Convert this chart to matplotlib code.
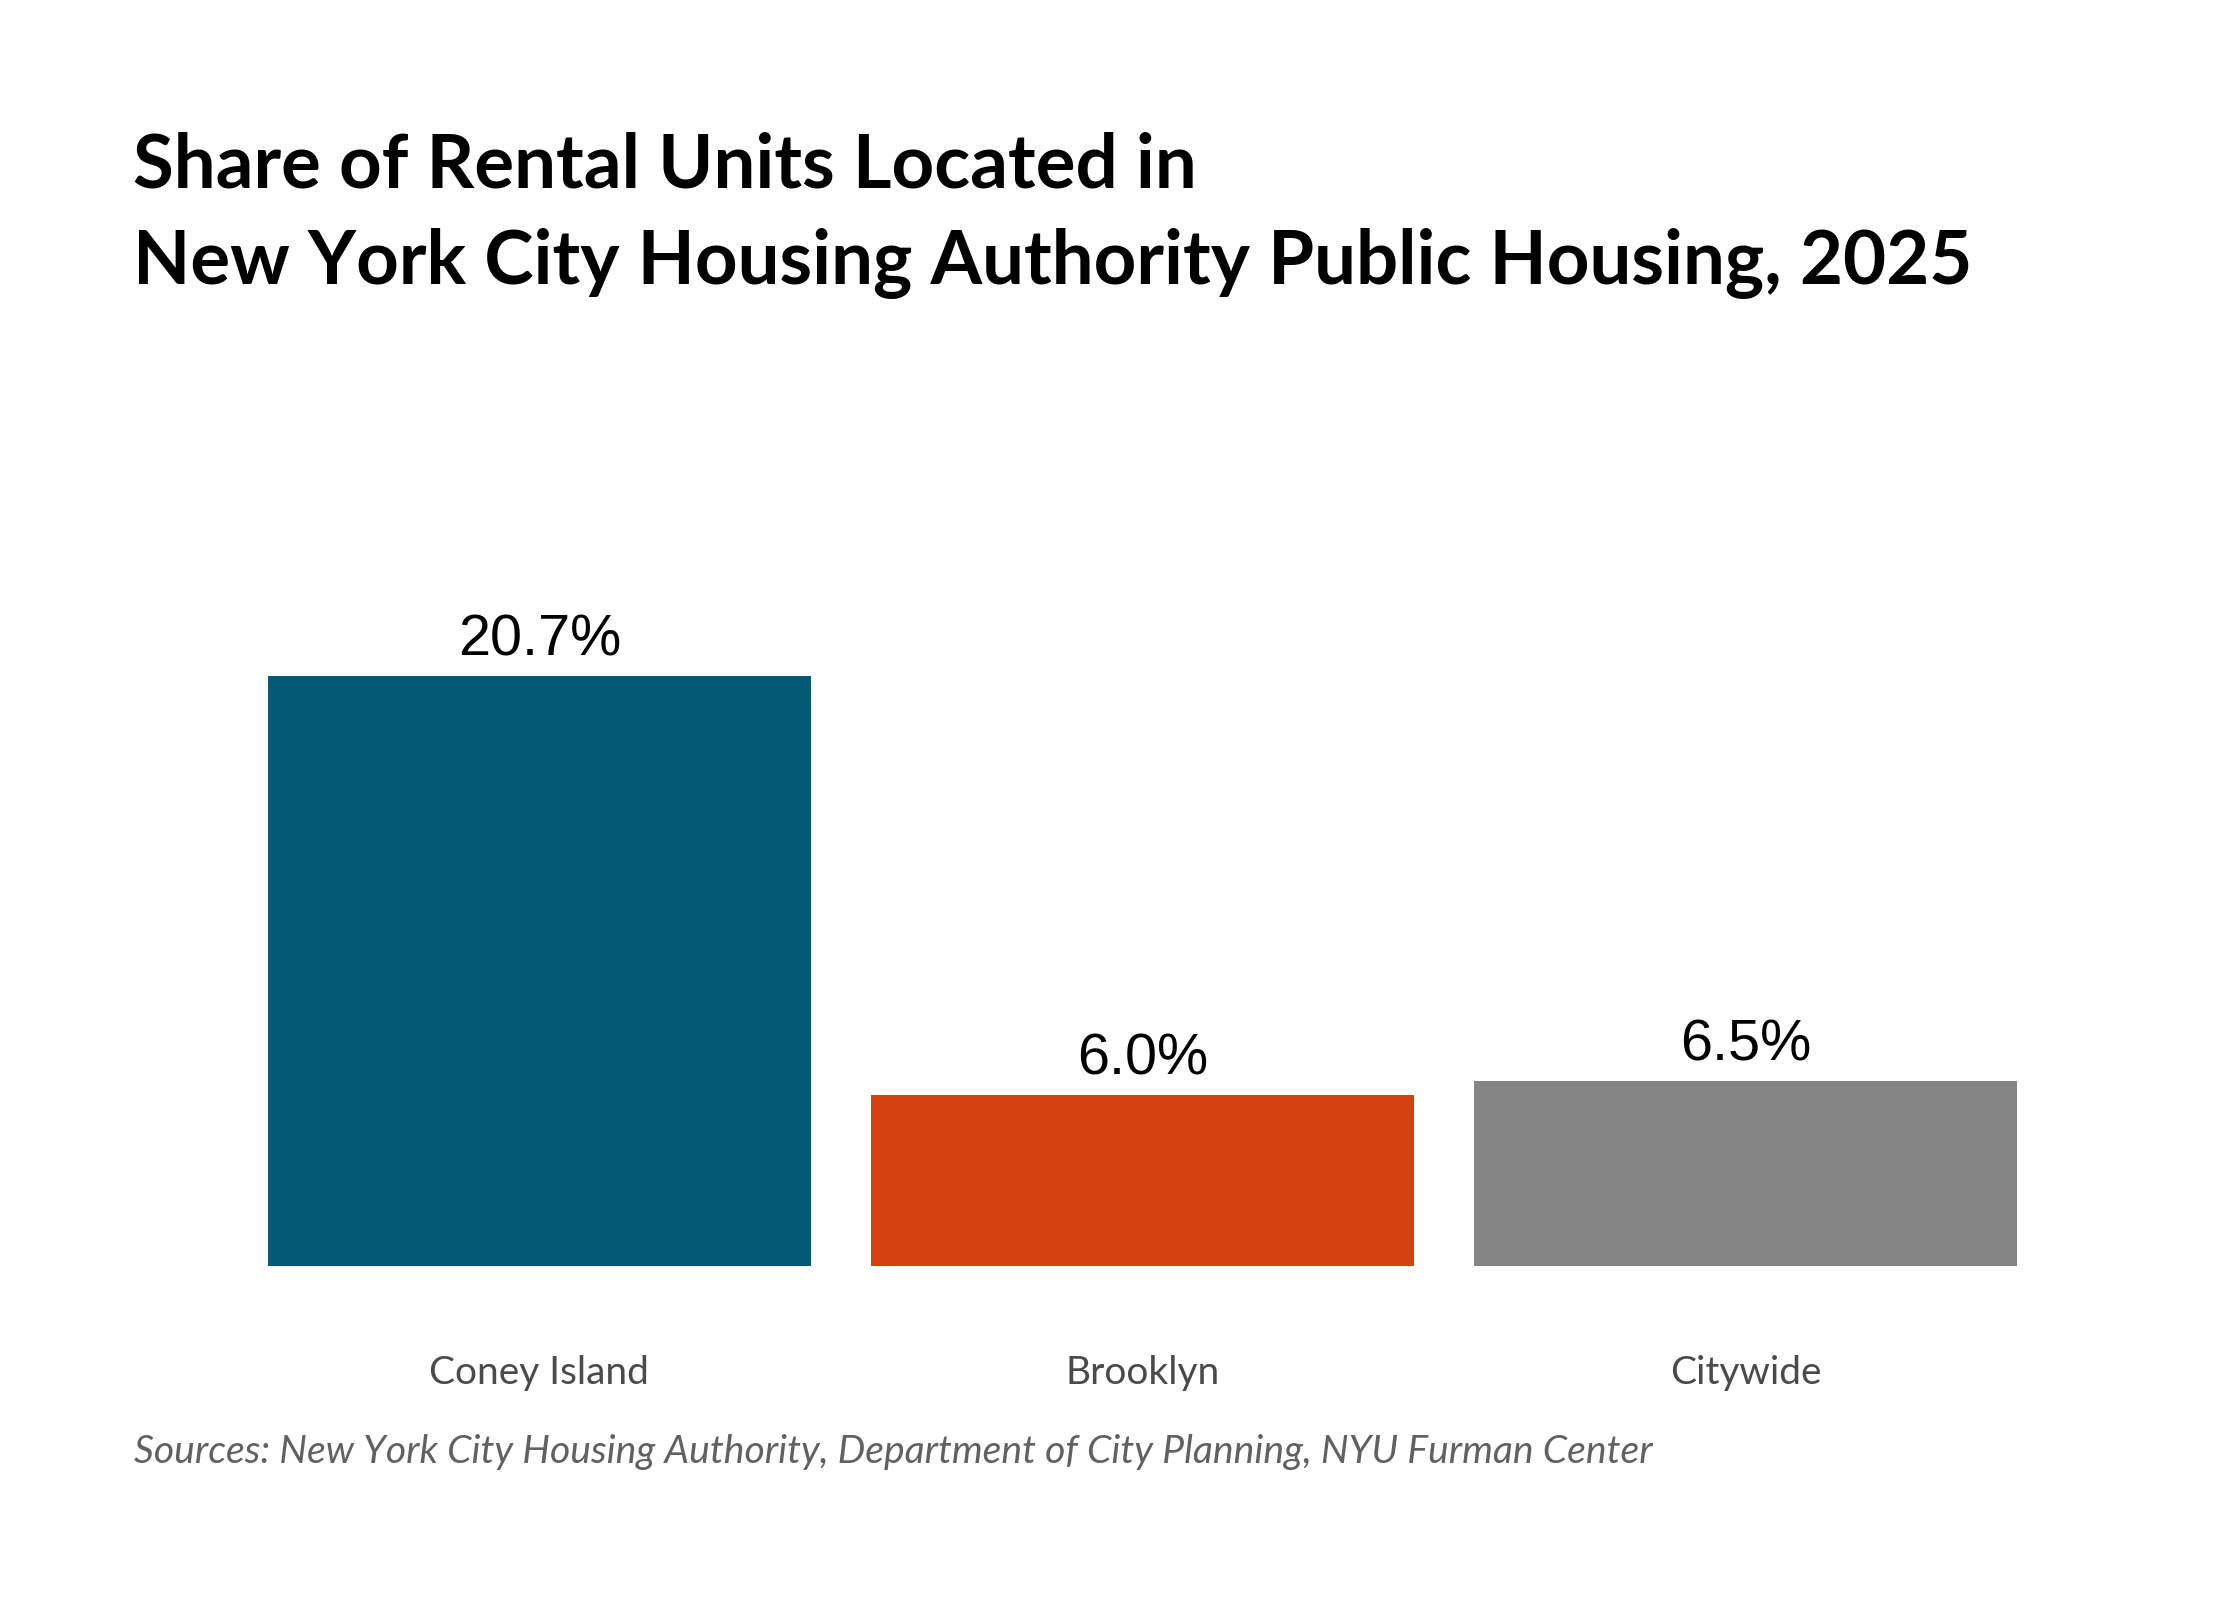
import matplotlib
matplotlib.use('Agg')
from matplotlib import pyplot as plt

#--- DATA ---------------------------------------------------------------------+

categories = ['Coney Island', 'Brooklyn', 'Citywide']
values = [20.7, 6.0, 6.5]
value_labels = ['20.7%', '6.0%', '6.5%']
colors = ['#025a75', '#d64113', '#848485']

title_lines = ['Share of Rental Units Located in',
               'New York City Housing Authority Public Housing, 2025']
source = 'Sources: New York City Housing Authority, Department of City Planning, NYU Furman Center'

#--- PLOT ---------------------------------------------------------------------+

fig = plt.figure(figsize=(22.4, 16), dpi=100)
fig.patch.set_facecolor('white')
ax = fig.add_axes([0.1196, 0.20875, 0.7808, 0.4454])

x = list(range(len(categories)))
bars = ax.bar(x, values, width=0.9, color=colors)

for rect, lbl in zip(bars, value_labels):
    ax.annotate(lbl, (rect.get_x() + rect.get_width() / 2, rect.get_height()),
                xytext=(0, 14.4), textcoords='offset points',
                ha='center', va='baseline', fontsize=41.5,
                family='Liberation Sans', color='black')

ax.set_xlim(-0.45, 2.45)
ax.set_ylim(0, 25)
ax.set_yticks([])
ax.set_xticks(x)
ax.set_xticklabels(categories, fontsize=28, family='Lato', color='#4a4a4a', va='baseline')
ax.tick_params(axis='x', length=0, pad=85)
for s in ax.spines.values():
    s.set_visible(False)

fig.text(0.0592, 0.8825, title_lines[0], fontsize=53.6, fontweight='bold',
         family='Lato', va='baseline', ha='left', color='black')
fig.text(0.0592, 0.8225, title_lines[1], fontsize=53.6, fontweight='bold',
         family='Lato', va='baseline', ha='left', color='black')
fig.text(0.0598, 0.0855, source, fontsize=28.2, style='italic',
         family='Lato', va='baseline', ha='left', color='#616161')

plt.savefig('out.png', dpi=100, facecolor='white')
